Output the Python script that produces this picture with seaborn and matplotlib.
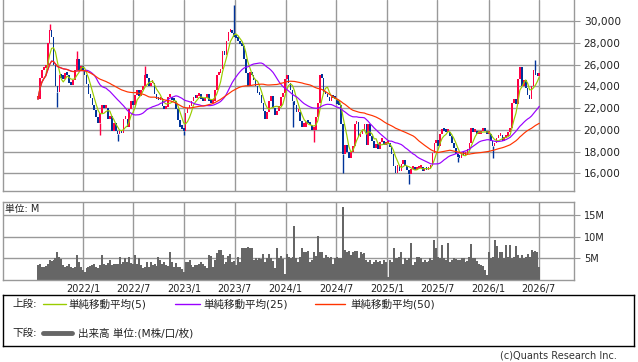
import pandas as pd
import numpy as np
from matplotlib import pyplot as plt
import seaborn as sns

# weekly closes (thousand yen)
closes = [
    22.8, 24.8, 25.5, 25.7, 26.0, 28.0, 29.2, 28.5, 26.0, 24.0, 23.5, 25.0, 24.8, 24.7, 25.2, 25.0,
    24.3, 24.1, 24.6, 25.5, 26.5, 25.5, 25.9, 25.5, 25.0, 24.2, 23.3, 22.9, 22.3, 21.8, 21.2, 20.6,
    21.5, 22.3, 22.0, 22.0, 21.0, 21.3, 19.9, 20.6, 19.9, 19.6, 19.8, 19.7, 21.0, 21.0, 20.3, 21.9,
    22.6, 22.3, 23.2, 23.7, 23.1,
    23.7, 24.0, 25.0, 24.8, 24.0, 24.3, 24.3, 23.3, 22.8, 22.7, 22.9, 22.2, 21.9, 22.1, 23.0, 23.0,
    22.7, 22.6, 21.9, 20.9, 20.3, 20.1, 19.9, 21.5, 22.0, 22.2, 22.6, 23.0, 22.9, 23.1, 23.3, 22.8,
    22.6, 22.9, 23.3, 22.6, 22.5, 22.6, 23.7, 25.0, 25.2, 25.6, 27.2, 26.9, 28.2, 29.0, 29.2, 28.9,
    28.5, 28.4, 28.2, 27.9, 27.7,
    26.5, 25.2, 24.0, 25.3, 25.0, 24.6, 24.0, 23.4, 23.2, 22.5, 21.7, 21.0, 21.6, 22.6, 23.1, 22.0,
    21.4, 21.7, 22.2, 23.0, 23.4, 24.7, 25.0, 24.3, 23.7, 22.6, 22.3, 21.6, 21.6, 20.8, 20.3, 20.3,
    20.7, 20.6, 20.4, 20.0, 20.0, 21.2, 22.5, 25.0, 24.8, 23.5, 23.3, 23.0, 22.6, 23.1, 22.9, 22.8,
    22.4, 22.3, 20.5, 17.8,
    18.6, 18.0, 17.4, 18.0, 18.5, 20.5, 20.7, 19.3, 19.6, 19.9, 20.5, 18.6, 20.5, 19.4, 19.0, 18.3,
    18.7, 18.2, 18.9, 19.0, 18.6, 18.7, 18.8, 18.4, 17.8, 16.7, 16.0, 16.8, 16.2, 16.9, 17.2, 16.7,
    16.3, 15.9, 16.4, 16.6, 16.3, 16.4, 16.5, 16.6, 16.2, 16.5, 16.3, 16.5, 16.7, 17.9, 18.8, 19.1,
    18.5, 19.6, 20.1, 19.9, 19.8,
    19.8, 19.4, 18.8, 18.3, 17.8, 17.5, 17.4, 17.8, 17.7, 17.7, 18.2, 18.8, 20.2, 19.8, 19.9, 19.6,
    19.6, 19.9, 20.0, 19.9, 19.6, 19.6, 19.0, 18.5, 18.8, 19.2, 19.4, 19.5, 19.0, 19.2, 19.4, 19.8,
    20.2, 22.5, 22.8, 22.4, 24.7, 25.8, 24.0, 24.6, 23.8, 23.2, 22.8, 24.0, 25.5, 25.0, 24.9, 24.9,
]

# weekly volume (millions)
volumes = [
    3.5, 3.8, 3.1, 3.1, 3.3, 3.8, 4.6, 4.4, 4.6, 5.0, 6.4, 5.4, 4.8, 3.5, 3.1, 3.3,
    3.8, 3.1, 2.7, 3.0, 5.8, 4.2, 3.0, 2.3, 1.9, 2.7, 3.1, 3.3, 3.5, 3.8, 3.1, 2.7,
    3.5, 5.8, 3.8, 3.5, 4.0, 4.6, 3.5, 3.8, 3.8, 3.6, 5.4, 3.8, 4.2, 5.0, 4.2, 5.4,
    4.0, 3.8, 5.8, 3.8, 5.0,
    3.5, 2.7, 3.0, 4.2, 3.1, 4.2, 3.5, 3.8, 3.3, 5.4, 4.6, 3.8, 4.2, 3.5, 3.2, 6.5,
    4.2, 3.1, 4.0, 3.1, 3.1, 2.6, 1.9, 4.2, 4.2, 4.6, 3.5, 3.1, 3.5, 3.5, 3.8, 4.2,
    3.8, 3.3, 2.7, 5.8, 5.6, 3.1, 4.6, 6.2, 7.0, 7.0, 5.8, 3.8, 4.2, 5.5, 6.0, 4.2,
    4.5, 3.5, 5.4, 4.2, 7.5,
    7.5, 7.5, 7.6, 7.3, 7.3, 4.6, 5.0, 4.6, 5.0, 4.8, 6.0, 4.2, 5.0, 6.0, 5.0, 4.4,
    2.7, 7.3, 5.0, 5.6, 4.8, 1.5, 6.0, 5.4, 5.0, 5.2, 12.5, 5.0, 4.2, 5.4, 7.3, 6.5,
    6.5, 6.8, 4.2, 4.6, 6.5, 5.5, 10.2, 6.5, 6.5, 5.0, 5.8, 5.4, 5.0, 5.2, 3.8, 5.0,
    5.4, 5.0, 5.0, 16.8,
    7.0, 6.5, 6.8, 5.8, 6.5, 6.8, 6.8, 5.0, 6.5, 6.0, 6.2, 4.6, 4.2, 4.6, 3.8, 4.2,
    4.6, 4.2, 4.4, 3.8, 4.6, 4.2, 0.8, 4.6, 4.2, 7.5, 5.0, 5.0, 5.4, 6.5, 3.8, 5.0,
    4.6, 5.0, 8.5, 3.5, 4.2, 5.4, 5.4, 5.0, 4.2, 4.6, 4.2, 4.4, 5.0, 4.6, 9.2, 7.3,
    5.4, 5.0, 8.0, 5.0, 4.6,
    8.5, 4.2, 4.6, 5.0, 4.8, 4.6, 4.6, 5.0, 5.0, 4.2, 4.4, 5.4, 8.2, 5.0, 5.0, 4.4,
    3.8, 3.5, 3.2, 2.3, 1.2, 6.5, 5.0, 5.4, 9.2, 7.8, 5.0, 6.5, 6.5, 5.0, 8.0, 5.4,
    8.0, 5.0, 5.4, 7.8, 5.8, 5.0, 5.8, 5.0, 5.4, 6.0, 5.2, 6.9, 6.5, 6.8, 6.5, 3.1,
]

# notable wick extremes: (week index, price in thousand yen)
hi_wicks = [(6, 29.7), (20, 27.2), (55, 25.9), (101, 31.5), (256, 26.4)]
lo_wicks = [(10, 22.1), (32, 19.5), (41, 19.0), (75, 19.5), (131, 20.3), (142, 18.9),
            (157, 16.0), (191, 15.0), (216, 17.0), (234, 17.4)]

ma_windows = [5, 25, 50]
ma_labels = ['単純移動平均(5)', '単純移動平均(25)', '単純移動平均(50)']
ma_colors = ['#99cc00', '#9900ff', '#ff3300']
price_ticks = [16000, 18000, 20000, 22000, 24000, 26000, 28000, 30000]
vol_ticks = [5, 10, 15]
date_ticks = ['2022-01-01', '2022-07-01', '2023-01-01', '2023-07-01', '2024-01-01',
              '2024-07-01', '2025-01-01', '2025-07-01', '2026-01-01', '2026-07-01']
date_labels = ['2022/1', '2022/7', '2023/1', '2023/7', '2024/1',
               '2024/7', '2025/1', '2025/7', '2026/1', '2026/7']

weeks = pd.date_range('2021-07-23', periods=len(closes), freq='W-FRI')
df = pd.DataFrame({'date': weeks, 'close': np.array(closes) * 1000, 'volume': volumes})
df['open'] = df['close'].shift(1).fillna(df['close'])
for w in ma_windows:
    df['ma%d' % w] = df['close'].rolling(w, min_periods=1).mean()

sns.set_style('white')
plt.rcParams['font.family'] = ['DejaVu Sans', 'Noto Sans CJK JP']
grid_c = '#999999'
txt_c = '#222222'

fig = plt.figure(figsize=(6.38, 3.62), dpi=100)
ax = fig.add_axes([3 / 638, 1 - 190.7 / 362, 571 / 638, 190.7 / 362])
axv = fig.add_axes([3 / 638, 1 - 280 / 362, 571 / 638, 78.3 / 362])

xlim = (pd.Timestamp('2021-03-19'), pd.Timestamp('2026-11-05'))
ticks = pd.to_datetime(date_ticks)

# candles
up = df['close'] >= df['open']
colors = np.where(up, '#ff0044', '#003399')
bottom = df[['open', 'close']].min(axis=1)
height = (df['close'] - df['open']).abs().clip(lower=300)
for idx, val in hi_wicks:
    ax.vlines(df['date'][idx], df.loc[idx, ['open', 'close']].max(), val * 1000,
              color=colors[idx], linewidth=1, zorder=2)
for idx, val in lo_wicks:
    ax.vlines(df['date'][idx], val * 1000, df.loc[idx, ['open', 'close']].min(),
              color=colors[idx], linewidth=1, zorder=2)
ax.bar(df['date'], height, bottom=bottom, width=6, color=colors, linewidth=0, zorder=2)

for w, c in zip(ma_windows, ma_colors):
    sns.lineplot(data=df, x='date', y='ma%d' % w, color=c, linewidth=0.85, ax=ax, zorder=3)

ax.set_xlim(xlim)
ax.set_ylim(14400, 31930)
ax.set_xticks(ticks)
ax.set_xticklabels([])
ax.set_yticks(price_ticks)
ax.set_yticklabels(['{:,}'.format(v) for v in price_ticks])
ax.yaxis.tick_right()
ax.tick_params(axis='y', length=4, color=grid_c, labelsize=7.6, labelcolor=txt_c, pad=3)
ax.tick_params(axis='x', length=0)
ax.grid(True, color=grid_c, linewidth=1)
ax.set_axisbelow(True)
ax.set_xlabel('')
ax.set_ylabel('')
for s in ['left', 'right', 'bottom']:
    ax.spines[s].set_color(grid_c)
    ax.spines[s].set_linewidth(1)
ax.spines['top'].set_visible(False)

# volume
axv.bar(df['date'], df['volume'], width=7.2, color='#666666', linewidth=0, zorder=2,
        antialiased=False)
axv.set_xlim(xlim)
axv.set_ylim(0, 18.07)
axv.set_xticks(ticks)
axv.set_xticklabels(date_labels)
axv.set_yticks(vol_ticks)
axv.set_yticklabels(['%dM' % v for v in vol_ticks])
axv.yaxis.tick_right()
axv.tick_params(axis='y', length=4, color=grid_c, labelsize=7, labelcolor=txt_c, pad=3)
axv.tick_params(axis='x', length=0, labelsize=7, labelcolor=txt_c, pad=3)
axv.grid(True, color=grid_c, linewidth=1)
axv.set_axisbelow(True)
for s in axv.spines.values():
    s.set_color(grid_c)
    s.set_linewidth(1)
axv.text(2 / 571, 1 - 7 / 78, '単位: M', transform=axv.transAxes, va='center',
         fontsize=7, color=txt_c)

# legend box
axl = fig.add_axes([3 / 638, 1 - 346 / 362, 631 / 638, 51 / 362])
axl.set_xlim(3, 634)
axl.set_ylim(346, 295)
axl.set_xticks([])
axl.set_yticks([])
for s in axl.spines.values():
    s.set_color('black')
    s.set_linewidth(1)
axl.text(12, 304, '上段:', va='center', fontsize=7.6, color=txt_c)
leg_x = [(43, 66, 68), (175, 200, 203), (315, 345, 350)]
for (x0, x1, tx), lab, c in zip(leg_x, ma_labels, ma_colors):
    axl.plot([x0, x1], [304, 304], color=c, linewidth=1)
    axl.text(tx, 304, lab, va='center', fontsize=7.6, color=txt_c)
axl.text(12, 333, '下段:', va='center', fontsize=7.6, color=txt_c)
axl.plot([43, 72], [333, 333], color='#666666', linewidth=3.5)
axl.text(78, 333, '出来高 単位:(M株/口/枚)', va='center', fontsize=7.6, color=txt_c)

fig.text(617 / 638, 1 - 356 / 362, '(c)Quants Research Inc.', ha='right', va='center',
         fontsize=7, color='#333333')

fig.savefig('out.png', dpi=100)
